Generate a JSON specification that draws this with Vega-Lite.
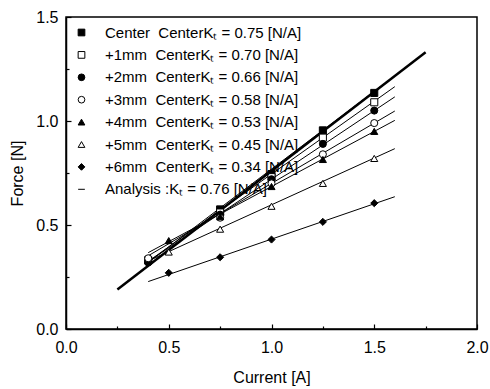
{
  "$schema": "https://vega.github.io/schema/vega-lite/v6.json",
  "width": 411,
  "height": 312,
  "autosize": {"type": "none"},
  "padding": {"left": 66, "top": 17, "right": 13, "bottom": 60},
  "background": "white",
  "config": {
    "font": "Liberation Sans",
    "view": {"stroke": "black", "strokeWidth": 1.5},
    "axis": {
      "grid": false,
      "domainColor": "black",
      "domainWidth": 1.5,
      "tickColor": "black",
      "tickWidth": 1.2,
      "labelColor": "black",
      "titleColor": "black",
      "labelFontSize": 16,
      "titleFontSize": 16,
      "titleFontWeight": "normal",
      "labelFlush": false
    },
    "legend": {
      "orient": "top-left",
      "offset": 8,
      "padding": 0,
      "labelFontSize": 15,
      "labelColor": "black",
      "labelLimit": 400,
      "labelOffset": 16,
      "rowPadding": 6.4,
      "symbolStrokeWidth": 1,
      "symbolSize": 45
    }
  },
  "datasets": {
    "points": [
      {"s": "Center\u00a0 CenterKₜ = 0.75 [N/A]", "I": 0.4, "F": 0.33},
      {"s": "Center\u00a0 CenterKₜ = 0.75 [N/A]", "I": 0.75, "F": 0.575},
      {"s": "Center\u00a0 CenterKₜ = 0.75 [N/A]", "I": 1.0, "F": 0.745},
      {"s": "Center\u00a0 CenterKₜ = 0.75 [N/A]", "I": 1.25, "F": 0.955},
      {"s": "Center\u00a0 CenterKₜ = 0.75 [N/A]", "I": 1.5, "F": 1.135},
      {"s": "+1mm\u00a0 CenterKₜ = 0.70 [N/A]", "I": 0.4, "F": 0.33},
      {"s": "+1mm\u00a0 CenterKₜ = 0.70 [N/A]", "I": 0.75, "F": 0.56},
      {"s": "+1mm\u00a0 CenterKₜ = 0.70 [N/A]", "I": 1.0, "F": 0.73},
      {"s": "+1mm\u00a0 CenterKₜ = 0.70 [N/A]", "I": 1.25, "F": 0.92},
      {"s": "+1mm\u00a0 CenterKₜ = 0.70 [N/A]", "I": 1.5, "F": 1.09},
      {"s": "+2mm\u00a0 CenterKₜ = 0.66 [N/A]", "I": 0.4, "F": 0.32},
      {"s": "+2mm\u00a0 CenterKₜ = 0.66 [N/A]", "I": 0.75, "F": 0.55},
      {"s": "+2mm\u00a0 CenterKₜ = 0.66 [N/A]", "I": 1.0, "F": 0.72},
      {"s": "+2mm\u00a0 CenterKₜ = 0.66 [N/A]", "I": 1.25, "F": 0.89},
      {"s": "+2mm\u00a0 CenterKₜ = 0.66 [N/A]", "I": 1.5, "F": 1.05},
      {"s": "+3mm\u00a0 CenterKₜ = 0.58 [N/A]", "I": 0.4, "F": 0.34},
      {"s": "+3mm\u00a0 CenterKₜ = 0.58 [N/A]", "I": 0.75, "F": 0.535},
      {"s": "+3mm\u00a0 CenterKₜ = 0.58 [N/A]", "I": 1.0, "F": 0.70},
      {"s": "+3mm\u00a0 CenterKₜ = 0.58 [N/A]", "I": 1.25, "F": 0.84},
      {"s": "+3mm\u00a0 CenterKₜ = 0.58 [N/A]", "I": 1.5, "F": 0.99},
      {"s": "+4mm\u00a0 CenterKₜ = 0.53 [N/A]", "I": 0.5, "F": 0.425},
      {"s": "+4mm\u00a0 CenterKₜ = 0.53 [N/A]", "I": 0.75, "F": 0.54},
      {"s": "+4mm\u00a0 CenterKₜ = 0.53 [N/A]", "I": 1.0, "F": 0.685},
      {"s": "+4mm\u00a0 CenterKₜ = 0.53 [N/A]", "I": 1.25, "F": 0.815},
      {"s": "+4mm\u00a0 CenterKₜ = 0.53 [N/A]", "I": 1.5, "F": 0.95},
      {"s": "+5mm\u00a0 CenterKₜ = 0.45 [N/A]", "I": 0.5, "F": 0.37},
      {"s": "+5mm\u00a0 CenterKₜ = 0.45 [N/A]", "I": 0.75, "F": 0.48},
      {"s": "+5mm\u00a0 CenterKₜ = 0.45 [N/A]", "I": 1.0, "F": 0.59},
      {"s": "+5mm\u00a0 CenterKₜ = 0.45 [N/A]", "I": 1.25, "F": 0.70},
      {"s": "+5mm\u00a0 CenterKₜ = 0.45 [N/A]", "I": 1.5, "F": 0.82},
      {"s": "+6mm\u00a0 CenterKₜ = 0.34 [N/A]", "I": 0.5, "F": 0.27},
      {"s": "+6mm\u00a0 CenterKₜ = 0.34 [N/A]", "I": 0.75, "F": 0.345},
      {"s": "+6mm\u00a0 CenterKₜ = 0.34 [N/A]", "I": 1.0, "F": 0.43},
      {"s": "+6mm\u00a0 CenterKₜ = 0.34 [N/A]", "I": 1.25, "F": 0.515},
      {"s": "+6mm\u00a0 CenterKₜ = 0.34 [N/A]", "I": 1.5, "F": 0.605}
    ],
    "fits": [
      {"s": "Center", "I": 0.4, "F": 0.32},
      {"s": "Center", "I": 1.55, "F": 1.18},
      {"s": "+1mm", "I": 0.4, "F": 0.325},
      {"s": "+1mm", "I": 1.6, "F": 1.165},
      {"s": "+2mm", "I": 0.4, "F": 0.324},
      {"s": "+2mm", "I": 1.6, "F": 1.116},
      {"s": "+3mm", "I": 0.4, "F": 0.352},
      {"s": "+3mm", "I": 1.6, "F": 1.048},
      {"s": "+4mm", "I": 0.4, "F": 0.367},
      {"s": "+4mm", "I": 1.6, "F": 1.003},
      {"s": "+5mm", "I": 0.4, "F": 0.327},
      {"s": "+5mm", "I": 1.6, "F": 0.867},
      {"s": "+6mm", "I": 0.4, "F": 0.228},
      {"s": "+6mm", "I": 1.6, "F": 0.636}
    ],
    "analysis": [
      {"I": 0.25, "F": 0.19},
      {"I": 1.75, "F": 1.33}
    ],
    "minor": [
      {"I": 0.25, "F": 0.25},
      {"I": 0.75, "F": 0.75},
      {"I": 1.25, "F": 1.25},
      {"I": 1.75, "F": 1.25}
    ]
  },
  "layer": [
    {
      "data": {"name": "minor"},
      "mark": {"type": "point", "opacity": 0},
      "encoding": {
        "x": {"field": "I", "type": "quantitative", "scale": {"domain": [0, 2], "nice": false, "zero": false},
          "axis": {"orient": "bottom", "values": [0.25, 0.75, 1.25, 1.75], "labels": false, "domain": false, "tickSize": -3, "title": null}},
        "y": {"field": "F", "type": "quantitative", "scale": {"domain": [0, 1.5], "nice": false, "zero": false},
          "axis": {"orient": "left", "values": [0.25, 0.75, 1.25], "labels": false, "domain": false, "tickSize": -3, "title": null}}
      }
    },
    {
      "data": {"name": "fits"},
      "mark": {"type": "line", "color": "black", "strokeWidth": 1},
      "encoding": {
        "x": {"field": "I", "type": "quantitative", "axis": null},
        "y": {"field": "F", "type": "quantitative", "axis": null},
        "detail": {"field": "s"}
      }
    },
    {
      "data": {"name": "analysis"},
      "mark": {"type": "line", "color": "black", "strokeWidth": 2.5},
      "encoding": {
        "x": {"field": "I", "type": "quantitative", "axis": null},
        "y": {"field": "F", "type": "quantitative", "axis": null}
      }
    },
    {
      "data": {"name": "points"},
      "mark": {"type": "point", "strokeWidth": 1, "opacity": 1, "fillOpacity": 1, "size": 50},
      "encoding": {
        "x": {"field": "I", "type": "quantitative", "scale": {"domain": [0, 2], "nice": false, "zero": false},
          "axis": {"orient": "bottom", "values": [0, 0.5, 1.0, 1.5, 2.0], "format": ".1f", "tickSize": -5, "labelPadding": 15, "title": "Current [A]", "titlePadding": 14}},
        "y": {"field": "F", "type": "quantitative", "scale": {"domain": [0, 1.5], "nice": false, "zero": false},
          "axis": {"orient": "left", "values": [0, 0.5, 1.0, 1.5], "format": ".1f", "tickSize": -5, "labelPadding": 13, "title": "Force [N]", "titlePadding": 10}},
        "shape": {"field": "s", "type": "nominal", "title": null,
          "scale": {"domain": ["Center\u00a0 CenterKₜ = 0.75 [N/A]", "+1mm\u00a0 CenterKₜ = 0.70 [N/A]", "+2mm\u00a0 CenterKₜ = 0.66 [N/A]", "+3mm\u00a0 CenterKₜ = 0.58 [N/A]", "+4mm\u00a0 CenterKₜ = 0.53 [N/A]", "+5mm\u00a0 CenterKₜ = 0.45 [N/A]", "+6mm\u00a0 CenterKₜ = 0.34 [N/A]", "Analysis :Kₜ = 0.76 [N/A]"],
            "range": ["square", "square", "circle", "circle", "triangle-up", "triangle-up", "diamond", "stroke"]}},
        "fill": {"field": "s", "type": "nominal", "title": null,
          "scale": {"domain": ["Center\u00a0 CenterKₜ = 0.75 [N/A]", "+1mm\u00a0 CenterKₜ = 0.70 [N/A]", "+2mm\u00a0 CenterKₜ = 0.66 [N/A]", "+3mm\u00a0 CenterKₜ = 0.58 [N/A]", "+4mm\u00a0 CenterKₜ = 0.53 [N/A]", "+5mm\u00a0 CenterKₜ = 0.45 [N/A]", "+6mm\u00a0 CenterKₜ = 0.34 [N/A]", "Analysis :Kₜ = 0.76 [N/A]"],
            "range": ["black", "white", "black", "white", "black", "white", "black", "black"]}},
        "stroke": {"field": "s", "type": "nominal", "title": null,
          "scale": {"domain": ["Center\u00a0 CenterKₜ = 0.75 [N/A]", "+1mm\u00a0 CenterKₜ = 0.70 [N/A]", "+2mm\u00a0 CenterKₜ = 0.66 [N/A]", "+3mm\u00a0 CenterKₜ = 0.58 [N/A]", "+4mm\u00a0 CenterKₜ = 0.53 [N/A]", "+5mm\u00a0 CenterKₜ = 0.45 [N/A]", "+6mm\u00a0 CenterKₜ = 0.34 [N/A]", "Analysis :Kₜ = 0.76 [N/A]"],
            "range": ["black", "black", "black", "black", "black", "black", "black", "black"]}}
      }
    }
  ],
  "resolve": {"axis": {"x": "independent", "y": "independent"}}
}
